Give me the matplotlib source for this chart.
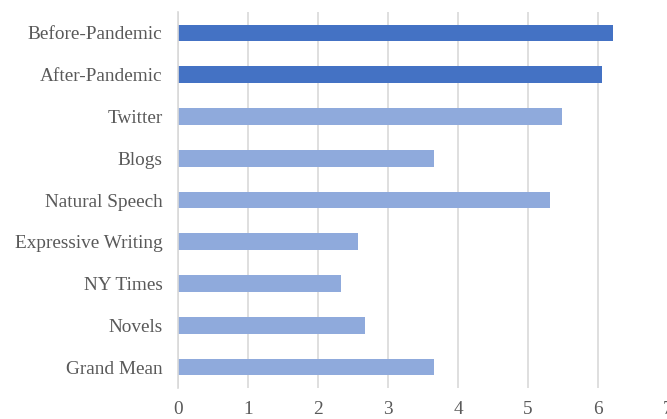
import matplotlib
matplotlib.use("Agg")
import matplotlib.pyplot as plt

categories = ["Before-Pandemic", "After-Pandemic", "Twitter", "Blogs",
              "Natural Speech", "Expressive Writing", "NY Times", "Novels",
              "Grand Mean"]
values = [6.22, 6.05, 5.48, 3.65, 5.31, 2.56, 2.32, 2.66, 3.66]
highlight = [True, True, False, False, False, False, False, False, False]
xticks = [0, 1, 2, 3, 4, 5, 6, 7]

dark = "#4472C4"
light = "#8FAADC"
text_color = "#595959"

plt.rcParams["font.family"] = ["Liberation Serif", "DejaVu Serif"]

fig = plt.figure(figsize=(6.67, 4.19), dpi=100)
ax = fig.add_axes([178.5 / 667, 1 - 388 / 419, (668 - 178.5) / 667, (388 - 12) / 419])

y = list(range(len(categories)))
colors = [dark if h else light for h in highlight]
ax.barh(y, values, height=0.4, color=colors, zorder=3)

ax.set_ylim(len(categories) - 0.5, -0.5)
ax.set_xlim(0, 7)
ax.set_yticks(y)
ax.set_yticklabels(categories)
ax.set_xticks(xticks)
ax.set_xticklabels([str(t) for t in xticks])

ax.grid(axis="x", color="#D9D9D9", linewidth=1.2, zorder=0)
ax.grid(axis="y", visible=False)
for side in ["top", "right", "bottom"]:
    ax.spines[side].set_visible(False)
ax.spines["left"].set_color("#D9D9D9")
ax.spines["left"].set_linewidth(1.2)
ax.spines["left"].set_zorder(4)

ax.tick_params(axis="both", length=0, labelsize=13.9, colors=text_color)
ax.tick_params(axis="y", pad=11.5)
ax.tick_params(axis="x", pad=9)

fig.savefig("out.png", dpi=100)
